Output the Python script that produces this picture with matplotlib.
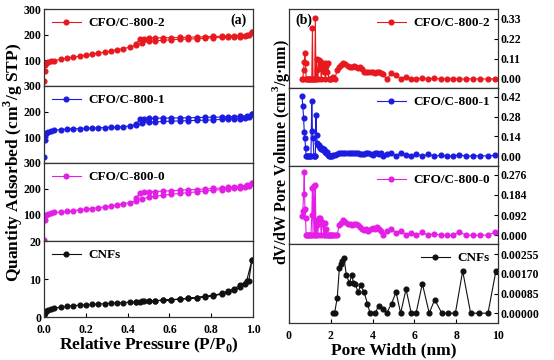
import numpy as np
import matplotlib
matplotlib.use("Agg")
import matplotlib.pyplot as plt

plt.rcParams['font.family'] = ['Liberation Serif', 'DejaVu Serif']
plt.rcParams['font.weight'] = 'bold'
plt.rcParams['axes.labelweight'] = 'bold'
plt.rcParams['mathtext.fontset'] = 'custom'
plt.rcParams['mathtext.rm'] = 'Liberation Serif:bold'
plt.rcParams['mathtext.bf'] = 'Liberation Serif:bold'

# ---- isotherm data (relative pressure) ----
p_ads = [0.001, 0.003, 0.006, 0.01, 0.02, 0.035, 0.05, 0.08, 0.11, 0.14,
         0.17, 0.20, 0.23, 0.26, 0.29, 0.32, 0.35, 0.38, 0.41, 0.44,
         0.47, 0.50, 0.53, 0.57, 0.61, 0.65, 0.69, 0.73, 0.77, 0.81,
         0.85, 0.88, 0.91, 0.94, 0.96, 0.98, 0.995]
p_des = [0.995, 0.97, 0.94, 0.91, 0.88, 0.85, 0.81, 0.77, 0.73, 0.69,
         0.65, 0.61, 0.57, 0.53, 0.50, 0.48, 0.46, 0.44]

c2_ads = [20, 60, 80, 88, 93, 96, 99, 104, 108, 112, 116, 120, 124, 128, 132, 136,
          141, 146, 151, 158, 168, 174, 176, 178, 180, 182, 183, 184, 186, 188,
          189, 190, 191, 192, 194, 197, 210]
c2_des = [210, 200, 197, 196, 195, 194, 193, 192, 191, 190, 189, 188, 188, 187,
          186, 185, 183, 165]
c1_ads = [25, 90, 108, 116, 122, 126, 128, 130, 132, 133, 134, 135, 136, 137, 138,
          139, 140, 142, 144, 147, 155, 158, 160, 162, 163, 164, 165, 166, 167, 168,
          170, 171, 172, 173, 175, 178, 190]
c1_des = [190, 184, 182, 181, 180, 179, 178, 178, 177, 176, 176, 175, 175, 174,
          174, 173, 172, 150]
c0_ads = [5, 80, 95, 100, 105, 108, 110, 112, 114, 117, 120, 122, 125, 128, 131,
          135, 139, 143, 148, 155, 162, 168, 172, 176, 180, 183, 186, 189, 192, 195,
          198, 200, 203, 205, 207, 210, 224]
c0_des = [224, 214, 210, 208, 206, 204, 202, 200, 198, 197, 195, 193, 192, 190,
          189, 188, 186, 165]
cnf_ads = [0.6, 1.0, 1.3, 1.5, 1.8, 2.1, 2.3, 2.6, 2.8, 3.0, 3.1, 3.2, 3.3, 3.4,
           3.5, 3.6, 3.7, 3.8, 3.9, 4.0, 4.1, 4.2, 4.3, 4.4, 4.6, 4.7, 4.9, 5.1,
           5.3, 5.6, 6.0, 6.5, 7.0, 8.0, 8.8, 9.5, 15.0]
cnf_des = [15.0, 9.6, 8.4, 7.5, 6.8, 6.2, 5.7, 5.4, 5.1, 4.9, 4.7, 4.5, 4.4, 4.3,
           4.2, 4.1, 4.0, 3.9]

# ---- pore size distribution ----
psd_w = [0.62, 0.66, 0.70, 0.73, 0.76, 0.79, 0.82, 0.86, 0.90, 0.95,
         1.00, 1.05, 1.09, 1.12, 1.15, 1.19, 1.23, 1.26, 1.29, 1.32,
         1.35, 1.38, 1.42, 1.46, 1.50, 1.54, 1.58, 1.62, 1.66, 1.70,
         1.74, 1.78, 1.82, 1.86, 1.90, 1.95, 2.00, 2.05, 2.10, 2.20,
         2.30, 2.40, 2.50, 2.60, 2.70, 2.80, 2.90, 3.00, 3.10, 3.20,
         3.30, 3.40, 3.50, 3.60, 3.70, 3.80, 3.90, 4.00, 4.10, 4.20,
         4.30, 4.40, 4.50, 4.67, 4.90, 5.12, 5.34, 5.60, 5.85, 6.10,
         6.38, 6.65, 6.95, 7.25, 7.55, 7.85, 8.15, 8.45, 8.80, 9.15,
         9.50, 9.85]
psd_c2 = [0.000, 0.000, 0.050, 0.092, 0.145, 0.090, 0.000, 0.000, 0.000, 0.000,
          0.000, 0.000, 0.000, 0.280, 0.000, 0.000, 0.000, 0.335, 0.000, 0.110,
          0.050, 0.000, 0.105, 0.060, 0.100, 0.000, 0.085, 0.060, 0.040, 0.090,
          0.000, 0.070, 0.040, 0.085, 0.000, 0.000, 0.000, 0.005, 0.010, 0.000,
          0.050, 0.065, 0.075, 0.085, 0.080, 0.072, 0.065, 0.068, 0.072, 0.066,
          0.060, 0.065, 0.055, 0.040, 0.038, 0.036, 0.040, 0.038, 0.035, 0.040,
          0.036, 0.030, 0.025, 0.000, 0.030, 0.020, 0.000, 0.010, 0.000, 0.000,
          0.006, 0.000, 0.003, 0.000, 0.000, 0.002, 0.000, 0.000, 0.000, 0.000,
          0.000, 0.000]
psd_c1 = [0.430, 0.357, 0.268, 0.173, 0.126, 0.060, 0.000, 0.000, 0.000, 0.000,
          0.000, 0.000, 0.390, 0.180, 0.126, 0.000, 0.000, 0.000, 0.290, 0.150,
          0.090, 0.075, 0.080, 0.060, 0.065, 0.050, 0.055, 0.040, 0.050, 0.030,
          0.035, 0.020, 0.030, 0.010, 0.000, 0.000, 0.000, 0.000, 0.005, 0.010,
          0.015, 0.020, 0.025, 0.022, 0.020, 0.022, 0.018, 0.020, 0.022, 0.018,
          0.020, 0.015, 0.012, 0.015, 0.018, 0.020, 0.015, 0.010, 0.018, 0.020,
          0.012, 0.020, 0.000, 0.015, 0.020, 0.000, 0.020, 0.005, 0.000, 0.012,
          0.000, 0.012, 0.000, 0.005, 0.000, 0.000, 0.008, 0.000, 0.000, 0.003,
          0.000, 0.005]
psd_c0 = [0.086, 0.110, 0.190, 0.290, 0.120, 0.080, 0.000, 0.000, 0.000, 0.000,
          0.000, 0.000, 0.090, 0.215, 0.000, 0.225, 0.000, 0.230, 0.000, 0.045,
          0.070, 0.000, 0.080, 0.080, 0.070, 0.000, 0.060, 0.050, 0.000, 0.055,
          0.000, 0.030, 0.000, 0.000, 0.000, 0.000, 0.000, 0.000, 0.000, 0.000,
          0.000, 0.045, 0.055, 0.068, 0.060, 0.050, 0.052, 0.045, 0.050, 0.052,
          0.045, 0.035, 0.030, 0.025, 0.030, 0.020, 0.028, 0.032, 0.030, 0.035,
          0.028, 0.020, 0.000, 0.020, 0.030, 0.010, 0.020, 0.000, 0.010, 0.000,
          0.012, 0.000, 0.005, 0.000, 0.000, 0.000, 0.015, 0.000, 0.000, 0.000,
          0.000, 0.012]
cnf_w = [2.09, 2.18, 2.31, 2.41, 2.49, 2.55, 2.63, 2.74, 2.89, 3.01, 3.08, 3.17,
         3.30, 3.43, 3.59, 3.75, 3.88, 4.13, 4.29, 4.50, 4.67, 4.91, 5.12, 5.34,
         5.60, 5.85, 6.08, 6.38, 6.71, 6.97, 7.31, 7.62, 7.96, 8.31, 8.69, 9.08,
         9.52, 9.90]
cnf_v = [0.0, 0.0, 0.00068, 0.00197, 0.00214, 0.00226, 0.00240, 0.00167, 0.00131,
         0.00167, 0.00131, 0.00128, 0.00092, 0.00121, 0.00092, 0.00042, 0.0, 0.0,
         0.00033, 0.00019, 0.0, 0.00042, 0.00092, 0.0, 0.00104, 0.0, 0.0, 0.00128,
         0.0, 0.00059, 0.0, 0.0, 0.0, 0.00183, 0.0, 0.0, 0.0, 0.00183]

labels = ['CFO/C-800-2', 'CFO/C-800-1', 'CFO/C-800-0', 'CNFs']
colors = ['#e8191e', '#1c1ce0', '#e41ee4', '#111111']

W, H = 554, 360
fig = plt.figure(figsize=(W / 100, H / 100), dpi=100)


def px_axes(x0, x1, y0, y1):
    return fig.add_axes([x0 / W, 1 - y1 / H, (x1 - x0) / W, (y1 - y0) / H])


def style(ax):
    ax.tick_params(direction='in', labelsize=8.5, length=3, width=0.8, pad=2)
    ax.tick_params(axis='x', pad=5)
    for s in ax.spines.values():
        s.set_linewidth(0.9)
        s.set_color('#333333')


# ---- left: isotherms ----
iso = [(c2_ads, c2_des), (c1_ads, c1_des), (c0_ads, c0_des), (cnf_ads, cnf_des)]
ybounds = [9, 86, 163, 241, 317]
for i in range(4):
    ax = px_axes(44, 253, ybounds[i], ybounds[i + 1])
    ads, des = iso[i]
    ax.plot(list(p_ads) + list(p_des), list(ads) + list(des), '-o', color=colors[i],
            lw=0.8, ms=3.4, label=labels[i])
    ax.set_xlim(0, 1.0)
    if i < 3:
        ax.set_ylim(0, 300)
        ax.set_yticks([100, 200, 300])
    else:
        ax.set_ylim(0, 20)
        ax.set_yticks([0, 10, 20])
    style(ax)
    if i < 3:
        ax.set_xticks([])
    else:
        ax.set_xticks([0, 0.2, 0.4, 0.6, 0.8, 1.0])
        ax.set_xticklabels(['0.0', '0.2', '0.4', '0.6', '0.8', '1.0'])
        ax.set_xlabel('Relative Pressure (P/P$_0$)', fontsize=12.5, fontweight='bold',
                      labelpad=0)
    ax.legend(loc='upper left', frameon=False, handlelength=2.2,
              borderaxespad=0.2, handletextpad=0.6, prop={'weight': 'bold', 'size': 9.5})
    if i == 0:
        ax.text(0.97, 0.86, '(a)', transform=ax.transAxes, ha='right', va='center',
                fontsize=10, fontweight='bold')
fig.text(0.003, (360 - 162) / 360, 'Quantity Adsorbed (cm$^3$/g STP)', rotation=90,
         ha='left', va='center', fontsize=12.5, fontweight='bold')

# ---- right: pore size distribution ----
psd = [(psd_w, psd_c2), (psd_w, psd_c1), (psd_w, psd_c0), (cnf_w, cnf_v)]
rlims = [(-0.05, 0.385), (-0.071, 0.484), (-0.041, 0.317), (-0.000425, 0.0030)]
rticks = [[0.0, 0.11, 0.22, 0.33], [0.0, 0.14, 0.28, 0.42],
          [0.0, 0.092, 0.184, 0.276], [0.0, 0.00085, 0.0017, 0.00255]]
rfmt = ['{:.2f}', '{:.2f}', '{:.3f}', '{:.5f}']
rbounds = [9, 88, 166, 244, 323]
for i in range(4):
    ax = px_axes(289, 498, rbounds[i], rbounds[i + 1])
    w, v = psd[i]
    ax.plot(w, v, '-o', color=colors[i], lw=0.8, ms=3.4, label=labels[i])
    ax.set_xlim(0, 10)
    ax.set_ylim(*rlims[i])
    ax.yaxis.tick_right()
    ax.set_yticks(rticks[i])
    ax.set_yticklabels([rfmt[i].format(t) for t in rticks[i]])
    style(ax)
    if i < 3:
        ax.set_xticks([])
    else:
        ax.set_xticks([0, 2, 4, 6, 8, 10])
        ax.set_xlabel('Pore Width (nm)', fontsize=12.5, fontweight='bold', labelpad=0)
    ax.legend(loc='upper right', frameon=False, handlelength=2.2,
              borderaxespad=0.2, handletextpad=0.6, prop={'weight': 'bold', 'size': 9.5})
    if i == 0:
        ax.text(0.03, 0.86, '(b)', transform=ax.transAxes, ha='left', va='center',
                fontsize=10, fontweight='bold')
fig.text(0.487, (360 - 152) / 360, 'dV/dW Pore Volume (cm$^3$/g·nm)', rotation=90,
         ha='left', va='center', fontsize=11.5, fontweight='bold')

fig.savefig('out.png', dpi=100)
